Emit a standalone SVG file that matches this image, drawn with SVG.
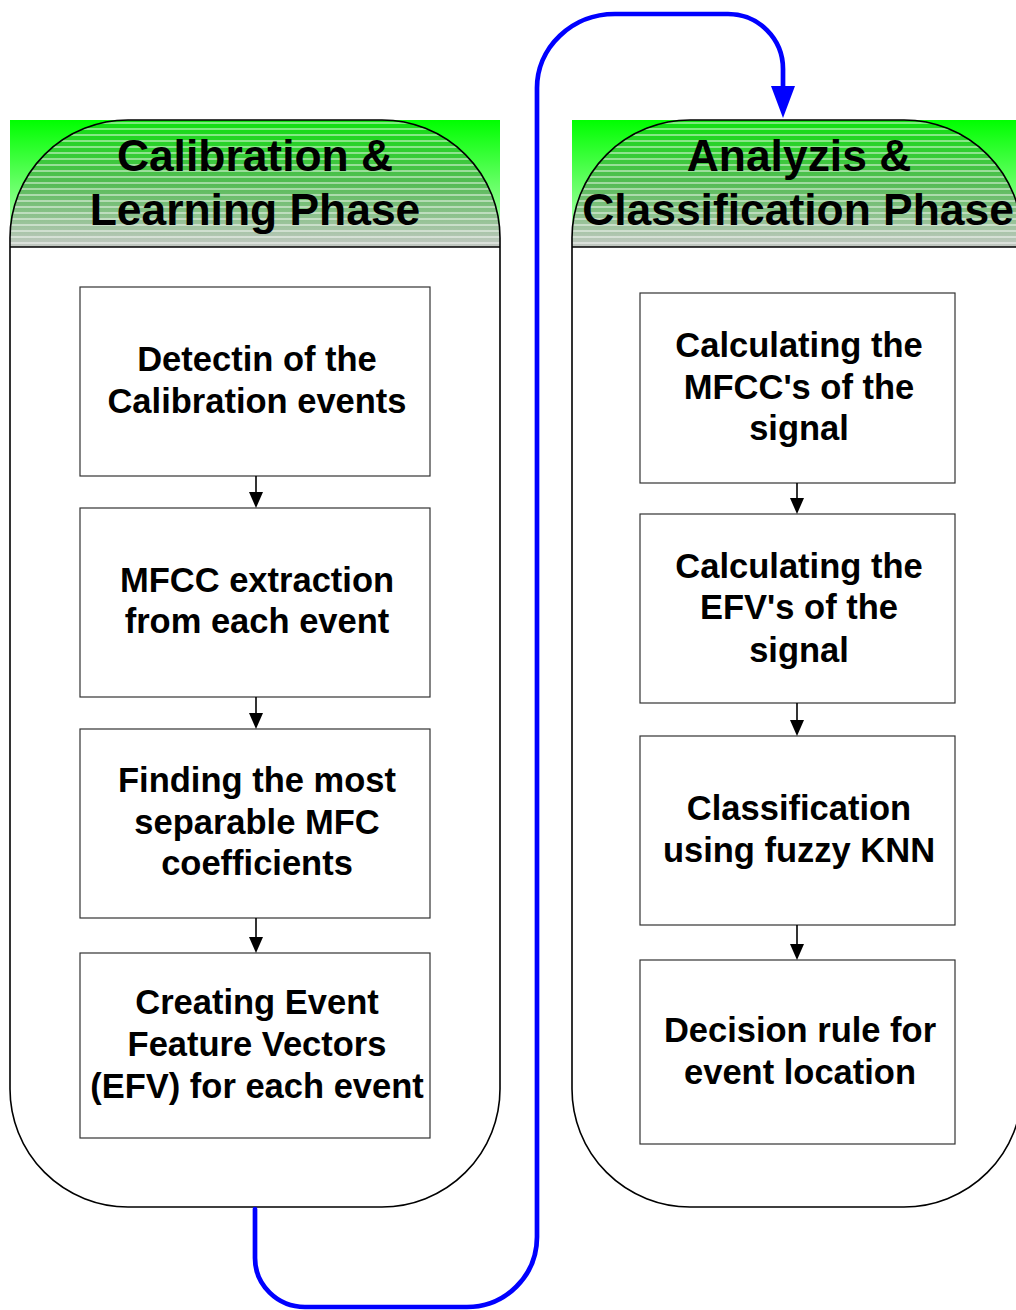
<svg xmlns="http://www.w3.org/2000/svg" width="1016" height="1310" viewBox="0 0 1016 1310">
<style>
.hdr{font-family:"Liberation Sans",Arial,sans-serif;font-weight:bold;font-size:44.4px;fill:#000;text-anchor:middle}
.lbl{font-family:"Liberation Sans",Arial,sans-serif;font-weight:bold;font-size:34.5px;fill:#000;text-anchor:middle}
.box{fill:#fff;stroke:#333;stroke-width:1.2}
.panel{fill:none;stroke:#000;stroke-width:1.6}
.arr{stroke:#000;stroke-width:1.6;fill:none}
.ahd{fill:#000}
.blue{stroke:#0000ff;stroke-width:4.7;fill:none;stroke-linecap:round}
</style>
<defs>
<linearGradient id="outerG" x1="0" y1="0" x2="0" y2="1">
<stop offset="0" stop-color="#00ff00"/>
<stop offset="1" stop-color="#c8ffc8"/>
</linearGradient>
<linearGradient id="innerG" x1="0" y1="0" x2="0" y2="1">
<stop offset="0" stop-color="#10e010"/>
<stop offset="0.5" stop-color="#55bb55"/>
<stop offset="1" stop-color="#c4c8c4"/>
</linearGradient>
<pattern id="stripes" x="0" y="122" width="20" height="6" patternUnits="userSpaceOnUse">
<rect x="0" y="0" width="20" height="2" fill="#ffffff" fill-opacity="0.45"/>
</pattern>
<clipPath id="clipL"><rect x="10" y="120" width="490" height="1087" rx="118" ry="118"/></clipPath>
<clipPath id="clipR"><rect x="572" y="120" width="450" height="1087" rx="118" ry="118"/></clipPath>
</defs>

<g id="panel-left">
<rect x="10" y="120" width="490" height="1087" rx="118" ry="118" fill="#fff"/>
<rect x="10" y="120" width="490" height="127" fill="url(#outerG)"/>
<g clip-path="url(#clipL)">
<rect x="10" y="120" width="490" height="127" fill="url(#innerG)"/>
<rect x="10" y="120" width="490" height="127" fill="url(#stripes)"/>
</g>
<rect class="panel" x="10" y="120" width="490" height="1087" rx="118" ry="118"/>
<line x1="10" y1="247" x2="500" y2="247" stroke="#000" stroke-width="1.6"/>
<text class="hdr" x="255" y="171">Calibration &amp;</text>
<text class="hdr" x="255" y="225">Learning Phase</text>
</g>

<g id="panel-right">
<rect x="572" y="120" width="450" height="1087" rx="118" ry="118" fill="#fff"/>
<rect x="572" y="120" width="450" height="127" fill="url(#outerG)"/>
<g clip-path="url(#clipR)">
<rect x="572" y="120" width="450" height="127" fill="url(#innerG)"/>
<rect x="572" y="120" width="450" height="127" fill="url(#stripes)"/>
</g>
<rect class="panel" x="572" y="120" width="450" height="1087" rx="118" ry="118"/>
<line x1="572" y1="247" x2="1016" y2="247" stroke="#000" stroke-width="1.6"/>
<text class="hdr" x="799" y="171">Analyzis &amp;</text>
<text class="hdr" x="798" y="225">Classification Phase</text>
</g>

<g id="box-l1">
<rect class="box" x="80" y="287" width="350" height="189"/>
<text class="lbl" x="257" y="371">Detectin of the</text>
<text class="lbl" x="257" y="413">Calibration events</text>
</g>
<g id="box-l2">
<rect class="box" x="80" y="508" width="350" height="189"/>
<text class="lbl" x="257" y="592">MFCC extraction</text>
<text class="lbl" x="257" y="633">from each event</text>
</g>
<g id="box-l3">
<rect class="box" x="80" y="729" width="350" height="189"/>
<text class="lbl" x="257" y="792">Finding the most</text>
<text class="lbl" x="257" y="834">separable MFC</text>
<text class="lbl" x="257" y="875">coefficients</text>
</g>
<g id="box-l4">
<rect class="box" x="80" y="953" width="350" height="185"/>
<text class="lbl" x="257" y="1014">Creating Event</text>
<text class="lbl" x="257" y="1056">Feature Vectors</text>
<text class="lbl" x="257" y="1098">(EFV) for each event</text>
</g>

<g id="box-r1">
<rect class="box" x="640" y="293" width="315" height="190"/>
<text class="lbl" x="799" y="357">Calculating the</text>
<text class="lbl" x="799" y="399">MFCC's of the</text>
<text class="lbl" x="799" y="440">signal</text>
</g>
<g id="box-r2">
<rect class="box" x="640" y="514" width="315" height="189"/>
<text class="lbl" x="799" y="578">Calculating the</text>
<text class="lbl" x="799" y="619">EFV's of the</text>
<text class="lbl" x="799" y="662">signal</text>
</g>
<g id="box-r3">
<rect class="box" x="640" y="736" width="315" height="189"/>
<text class="lbl" x="799" y="820">Classification</text>
<text class="lbl" x="799" y="862">using fuzzy KNN</text>
</g>
<g id="box-r4">
<rect class="box" x="640" y="960" width="315" height="184"/>
<text class="lbl" x="800" y="1042">Decision rule for</text>
<text class="lbl" x="800" y="1084">event location</text>
</g>

<g id="connectors">
<line class="arr" x1="256" y1="476" x2="256" y2="494"/>
<polygon class="ahd" points="249,492 263,492 256,508"/>
<line class="arr" x1="256" y1="697" x2="256" y2="715"/>
<polygon class="ahd" points="249,713 263,713 256,729"/>
<line class="arr" x1="256" y1="918" x2="256" y2="939"/>
<polygon class="ahd" points="249,937 263,937 256,953"/>
<line class="arr" x1="797" y1="483" x2="797" y2="500"/>
<polygon class="ahd" points="790,498 804,498 797,514"/>
<line class="arr" x1="797" y1="703" x2="797" y2="722"/>
<polygon class="ahd" points="790,720 804,720 797,736"/>
<line class="arr" x1="797" y1="925" x2="797" y2="946"/>
<polygon class="ahd" points="790,944 804,944 797,960"/>
<path class="blue" d="M255,1209 L255,1258 A50,49 0 0 0 305,1307 L467,1307 A70,70 0 0 0 537,1237 L537,88 A78,74 0 0 1 615,14 L728,14 A55,55 0 0 1 783,69 L783,90"/>
<polygon points="771,86 795,86 783,118" fill="#0000ff"/>
</g>
</svg>
